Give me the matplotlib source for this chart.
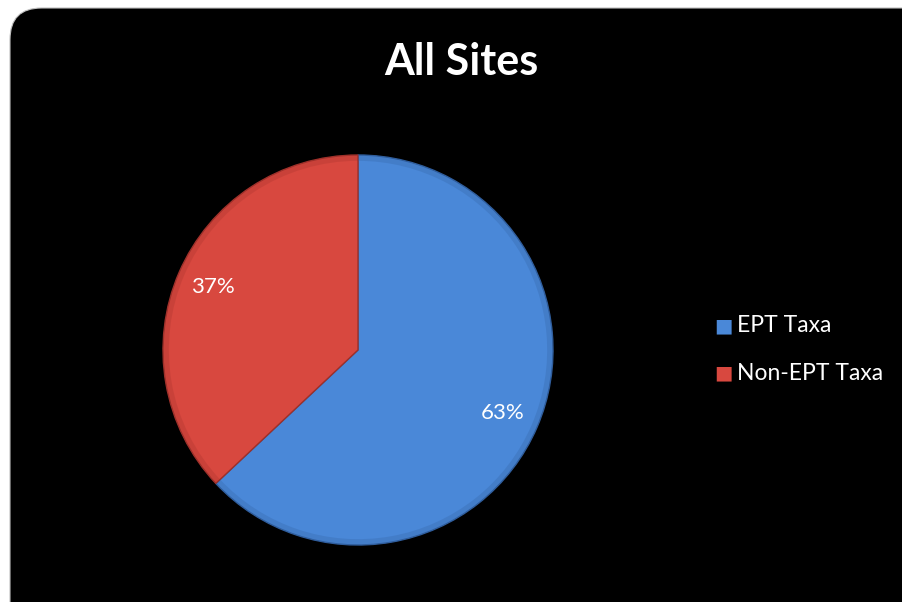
import matplotlib.pyplot as plt
from matplotlib.patches import FancyBboxPatch

labels = ['EPT Taxa', 'Non-EPT Taxa']
values = [63, 37]
colors = ['#4a88d8', '#d8483f']
edges = ['#2f5d9c', '#9e302a']

plt.rcParams['font.family'] = ['Lato', 'DejaVu Sans']

fig = plt.figure(figsize=(9.02, 6.02), dpi=100)
fig.patch.set_facecolor('white')

# black rounded panel
W, H = 902.0, 602.0
panel = FancyBboxPatch((10 / W, -0.1), 1.2, 0.1 + (H - 8) / H,
                       boxstyle='round,pad=0,rounding_size=0.035',
                       transform=fig.transFigure, facecolor='black',
                       edgecolor='#bfbfbf', linewidth=0.8,
                       mutation_aspect=W / H, zorder=-5)
fig.patches.append(panel)

fig.text(461 / W, 1 - 62 / H, 'All Sites', color='white', fontsize=31,
         fontweight='bold', ha='center', va='center')

# pie axes
cx, cy, r = 358, 350, 195
ax = fig.add_axes([(cx - r) / W, (H - cy - r) / H, 2 * r / W, 2 * r / H])
ax.set_facecolor('none')
ax.set_zorder(2)
wedges, texts, autotexts = ax.pie(values, colors=colors, startangle=90,
                                  counterclock=False, autopct='%d%%',
                                  pctdistance=0.81, radius=1,
                                  wedgeprops=dict(linewidth=1.0))
for w, e in zip(wedges, edges):
    w.set_edgecolor(e)
# soft darker rim for the bevel look
ax.pie(values, colors=edges, startangle=90, counterclock=False, radius=1,
       wedgeprops=dict(width=0.03, linewidth=0, alpha=0.25))
for t in autotexts:
    t.set_color('white')
    t.set_fontsize(16)
    t.set_zorder(5)
ax.set_xlim(-1.0, 1.0)
ax.set_ylim(-1.0, 1.0)
ax.axis('off')

# legend
leg_y = [326, 373]
for lab, col, yy in zip(labels, colors, leg_y):
    fig.text(723 / W, 1 - yy / H, '\u25a0', color=col, fontsize=14,
             ha='center', va='center', family='DejaVu Sans')
    fig.text(737 / W, 1 - yy / H, lab, color='white', fontsize=16.5,
             ha='left', va='center')

fig.savefig('out.png', dpi=100, facecolor=fig.get_facecolor())
